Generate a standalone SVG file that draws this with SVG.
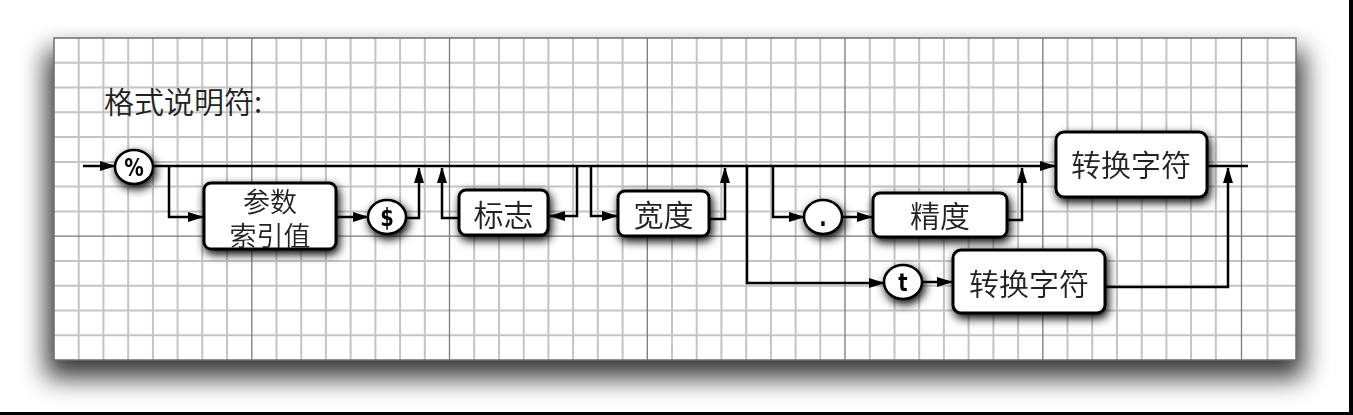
<svg xmlns="http://www.w3.org/2000/svg" width="1353" height="415" viewBox="0 0 1353 415">
<style>
.minor{stroke:#c4c4c4;stroke-width:2;fill:none}
.major{stroke:#7a7a7a;stroke-width:1.3;fill:none}
.box{fill:#fff;stroke:#000;stroke-width:3}
.circ{fill:#fff;stroke:#000;stroke-width:2.5}
.lbl{font-family:"Noto Sans CJK SC","Noto Sans",sans-serif;font-weight:350;font-size:30px;fill:#222;text-anchor:middle;dominant-baseline:central}
.sym{font-family:"DejaVu Sans","Liberation Sans",sans-serif;font-weight:bold;font-size:25px;fill:#000;text-anchor:middle;dominant-baseline:central}
.conn{stroke:#000;stroke-width:2.5;fill:none}
.title{font-family:"Noto Sans CJK SC","Noto Sans",sans-serif;font-weight:350;font-size:30px;fill:#222}
</style>
<defs>
<filter id="pshadow" x="-10%" y="-30%" width="120%" height="160%">
<feGaussianBlur stdDeviation="13"/>
</filter>
<filter id="nshadow" x="-30%" y="-40%" width="160%" height="190%">
<feGaussianBlur in="SourceAlpha" stdDeviation="5"/>
<feOffset dx="2" dy="4" result="b"/>
<feComponentTransfer in="b" result="c"><feFuncA type="linear" slope="1"/></feComponentTransfer>
<feMerge><feMergeNode in="c"/><feMergeNode in="SourceGraphic"/></feMerge>
</filter>
<marker id="ah" markerUnits="userSpaceOnUse" markerWidth="16" markerHeight="10" refX="15" refY="5" orient="auto">
<path d="M0,0 L16,5 L0,10 z" fill="#000"/>
</marker>
</defs>
<rect width="1353" height="415" fill="#fff"/>
<rect x="46" y="50" width="1258" height="328" fill="#000" opacity="0.78" filter="url(#pshadow)"/>
<g id="grid">
<rect x="54" y="38" width="1242" height="322" fill="#fff"/>
<path class="minor" d="M78.7,38V360M103.4,38V360M128.2,38V360M152.9,38V360M177.6,38V360M202.3,38V360M227,38V360M276.5,38V360M301.2,38V360M325.9,38V360M350.6,38V360M375.4,38V360M400.1,38V360M424.8,38V360M474.2,38V360M499,38V360M523.7,38V360M548.4,38V360M573.1,38V360M597.8,38V360M622.6,38V360M672,38V360M696.7,38V360M721.4,38V360M746.2,38V360M770.9,38V360M795.6,38V360M820.3,38V360M869.8,38V360M894.5,38V360M919.2,38V360M943.9,38V360M968.6,38V360M993.4,38V360M1018.1,38V360M1067.5,38V360M1092.2,38V360M1117,38V360M1141.7,38V360M1166.4,38V360M1191.1,38V360M1215.8,38V360M1267.5,38V360
M54,62.8H1296M54,87.5H1296M54,112.3H1296M54,137.1H1296M54,161.9H1296M54,186.6H1296M54,211.4H1296M54,260.9H1296M54,285.7H1296M54,310.5H1296M54,335.2H1296"/>
<path class="major" d="M251.8,38V360M449.5,38V360M647.3,38V360M845,38V360M1042.8,38V360M1241.5,38V360M54,236.2H1296"/>
<rect x="54" y="38" width="1242" height="322" fill="none" stroke="#6e6e6e" stroke-width="1.5"/>
</g>
<text class="title" x="104" y="113">格式说明符:</text>
<g id="connectors">
<path class="conn" d="M83,166H115" marker-end="url(#ah)"/>
<path class="conn" d="M153,166H1055" marker-end="url(#ah)"/>
<path class="conn" d="M1207,166H1248"/>
<path class="conn" d="M169,166V217H203" marker-end="url(#ah)"/>
<path class="conn" d="M336,217H368" marker-end="url(#ah)"/>
<path class="conn" d="M405,218H419V168" marker-end="url(#ah)"/>
<path class="conn" d="M577,166V216H550" marker-end="url(#ah)"/>
<path class="conn" d="M459,218H442V168" marker-end="url(#ah)"/>
<path class="conn" d="M591,166V216H617" marker-end="url(#ah)"/>
<path class="conn" d="M709,219H725V168" marker-end="url(#ah)"/>
<path class="conn" d="M773,166V217H804" marker-end="url(#ah)"/>
<path class="conn" d="M842,217H872" marker-end="url(#ah)"/>
<path class="conn" d="M1007,220H1022V168" marker-end="url(#ah)"/>
<path class="conn" d="M747,166V283H884" marker-end="url(#ah)"/>
<path class="conn" d="M922,282H952" marker-end="url(#ah)"/>
<path class="conn" d="M1105,287H1228V168" marker-end="url(#ah)"/>
</g>
<g id="n-percent" filter="url(#nshadow)"><ellipse class="circ" cx="134" cy="167" rx="19" ry="17"/><text class="sym" transform="translate(134,167) scale(0.78,1)">%</text></g>
<g id="n-argindex" filter="url(#nshadow)"><rect class="box" x="204" y="183" width="132" height="66" rx="7"/><text class="lbl" style="font-size:27px"><tspan x="270" y="200">参数</tspan><tspan x="270" y="234">索引值</tspan></text></g>
<g id="n-dollar" filter="url(#nshadow)"><ellipse class="circ" cx="387" cy="217" rx="19" ry="17"/><text class="sym" transform="translate(387,217) scale(0.78,1)">$</text></g>
<g id="n-flags" filter="url(#nshadow)"><rect class="box" x="459" y="190" width="89" height="45" rx="7"/><text class="lbl" x="503.5" y="212.5">标志</text></g>
<g id="n-width" filter="url(#nshadow)"><rect class="box" x="618" y="191" width="91" height="45" rx="7"/><text class="lbl" x="663.5" y="213">宽度</text></g>
<g id="n-dot" filter="url(#nshadow)"><ellipse class="circ" cx="823" cy="217" rx="19" ry="17"/><text class="sym" transform="translate(823,217) scale(0.78,1)">.</text></g>
<g id="n-precision" filter="url(#nshadow)"><rect class="box" x="873" y="193" width="134" height="44" rx="7"/><text class="lbl" x="940" y="214">精度</text></g>
<g id="n-conv1" filter="url(#nshadow)"><rect class="box" x="1056" y="132" width="151" height="65" rx="8"/><text class="lbl" x="1131" y="163">转换字符</text></g>
<g id="n-t" filter="url(#nshadow)"><ellipse class="circ" cx="903" cy="282" rx="19" ry="17"/><text class="sym" transform="translate(903,282) scale(0.78,1)">t</text></g>
<g id="n-conv2" filter="url(#nshadow)"><rect class="box" x="953" y="250" width="152" height="63" rx="8"/><text class="lbl" x="1029" y="281.5">转换字符</text></g>
<rect x="1349" y="0" width="4" height="415" fill="#000"/>
<rect x="0" y="412" width="1353" height="3" fill="#000"/>
</svg>
